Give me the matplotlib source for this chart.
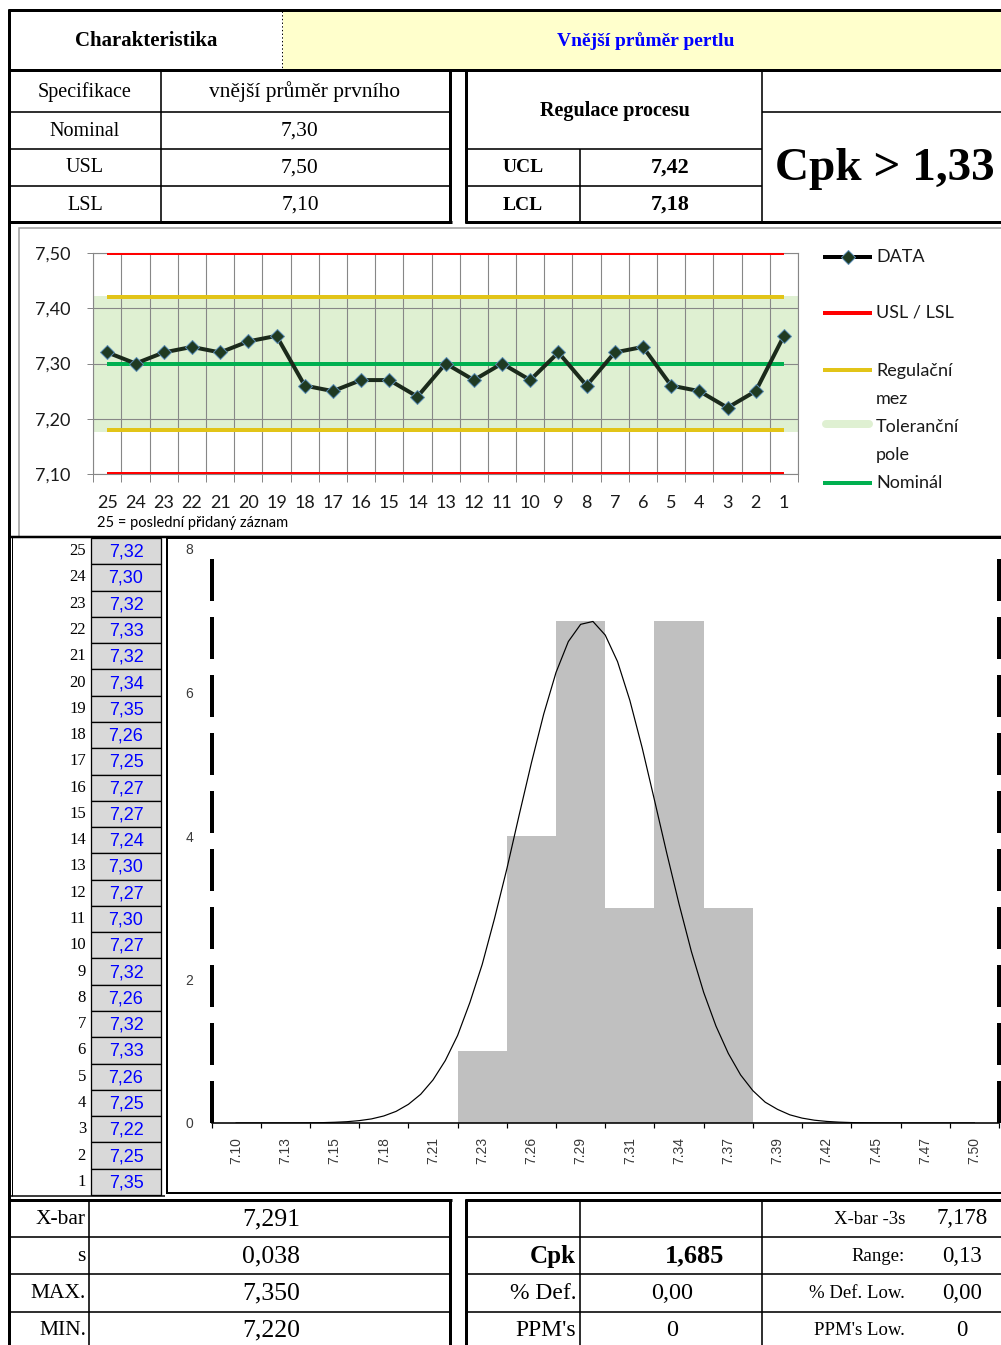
import matplotlib
matplotlib.use('Agg')
import matplotlib.pyplot as plt
from matplotlib.patches import Rectangle

plt.rcParams['lines.scale_dashes'] = False

# ---------------- data ----------------
sample_no = [25, 24, 23, 22, 21, 20, 19, 18, 17, 16, 15, 14, 13,
             12, 11, 10, 9, 8, 7, 6, 5, 4, 3, 2, 1]
measured = [7.32, 7.30, 7.32, 7.33, 7.32, 7.34, 7.35, 7.26, 7.25, 7.27, 7.27, 7.24, 7.30,
            7.27, 7.30, 7.27, 7.32, 7.26, 7.32, 7.33, 7.26, 7.25, 7.22, 7.25, 7.35]
nominal = 7.30
usl = 7.50
lsl = 7.10
ucl = 7.42
lcl = 7.18
chart_yticks = [7.10, 7.20, 7.30, 7.40, 7.50]

bin_labels = ['7.10', '7.13', '7.15', '7.18', '7.21', '7.23', '7.26', '7.29',
              '7.31', '7.34', '7.37', '7.39', '7.42', '7.45', '7.47', '7.50']
bin_counts = [0, 0, 0, 0, 0, 1, 4, 7, 3, 7, 3, 0, 0, 0, 0, 0]
hist_yticks = [0, 2, 4, 6, 8]
# normal curve at quarter-category steps
curve_pos = [i / 4 for i in range(61)]
curve_val = [0, 0, 0, 0.0003, 0.0006, 0.0013, 0.0026, 0.005, 0.010, 0.018,
             0.033, 0.057, 0.098, 0.162, 0.26, 0.40, 0.60, 0.87, 1.22, 1.68,
             2.21, 2.85, 3.54, 4.29, 5.02, 5.70, 6.28, 6.71, 6.95, 6.99,
             6.80, 6.43, 5.89, 5.23, 4.50, 3.76, 3.05, 2.39, 1.82, 1.35,
             0.97, 0.67, 0.45, 0.29, 0.19, 0.114, 0.068, 0.039, 0.022, 0.012,
             0.006, 0.003, 0.0016, 0.0008, 0.0004, 0.0002, 0, 0, 0, 0, 0]

spec_labels = ['Nominal', 'USL', 'LSL']
spec_values = ['7,30', '7,50', '7,10']
ctrl_labels = ['UCL', 'LCL']
ctrl_values = ['7,42', '7,18']

stat_left_labels = ['X-bar', 's', 'MAX.', 'MIN.']
stat_left_values = ['7,291', '0,038', '7,350', '7,220']
stat_mid_labels = ['', 'Cpk', '% Def.', "PPM's"]
stat_mid_values = ['', '1,685', '0,00', '0']
stat_right_labels = ['X-bar -3s', 'Range:', '% Def. Low.', "PPM's Low."]
stat_right_values = ['7,178', '0,13', '0,00', '0']

# ---------------- styles ----------------
SERIF = 'Liberation Serif'
SANS = 'Liberation Sans'
CHART = 'Lato'
RED = '#FF0000'
GOLD = '#E2C418'
GREEN = '#00B050'
BAND = '#DFF0D2'
GRID = '#878787'
W, H = 1001, 1345
PX = 72 / 100.0

fig = plt.figure(figsize=(W / 100, H / 100), dpi=100)
ov = fig.add_axes([0, 0, 1, 1])
ov.set_xlim(0, W)
ov.set_ylim(H, 0)
ov.axis('off')


def L(xs, ys, lw=1.6, color='black', ls='-', z=3):
    ov.plot(xs, ys, color=color, lw=lw * PX, ls=ls, solid_capstyle='butt', zorder=z)


def T(x, y, s, size, ha='center', family=SERIF, weight='normal', color='black'):
    ov.text(x, y, s, fontsize=size, ha=ha, va='center', family=family,
            weight=weight, color=color, zorder=6)


# ---------------- header ----------------
ov.add_patch(Rectangle((283, 11), W - 283, 58, fc='#FFFFCC', ec='none', zorder=1))
L([8, W], [10, 10], lw=3)
L([9, 9], [9, H], lw=3)
L([282, 282], [11, 69], lw=1, ls=':')
L([8, W], [70, 70], lw=3)
T(146, 41, 'Charakteristika', 15, weight='bold')
T(646, 41, 'Vnější průměr pertlu', 14, weight='bold', color='#0000FF')

# top-left table
for y in [112, 149, 186]:
    L([9, 450], [y, y])
L([8, 452], [222, 222], lw=3)
L([161, 161], [70, 222])
L([450, 450], [70, 223], lw=3)
T(85, 92, 'Specifikace', 14.5)
T(305, 92, 'vnější průměr prvního', 15.5)
for i, (lab, val) in enumerate(zip(spec_labels, spec_values)):
    yc = 131 + i * 37
    T(85, yc, lab, 14.5)
    T(300, yc, val, 15.5)

# top-right table
L([466, 466], [70, 223], lw=3)
L([762, 762], [70, 222])
L([580, 580], [149, 222])
L([466, 762], [149, 149])
L([466, 762], [186, 186])
L([762, W], [112, 112])
L([465, W], [222, 222], lw=3)
T(615, 111, 'Regulace procesu', 14.5, weight='bold')
for i, (lab, val) in enumerate(zip(ctrl_labels, ctrl_values)):
    yc = 168 + i * 37
    T(523, yc, lab, 14, weight='bold')
    T(670, yc, val, 16, weight='bold')
T(885, 169, 'Cpk > 1,33', 34, weight='bold')

# chart box
ov.add_patch(Rectangle((19, 228), W, 309, fc='white', ec='#9a9a9a', lw=1.5 * PX, zorder=1))
L([9, W], [537, 537], lw=2.5)

# data table
row_h = (1195 - 538) / 25.0
for i, (n, v) in enumerate(zip(sample_no, measured)):
    y0 = 538 + i * row_h
    ov.add_patch(Rectangle((91, y0), 70, row_h, fc='#D9D9D9', ec='black',
                           lw=1.3 * PX, zorder=2))
    T(86, y0 + row_h / 2, str(n), 12, ha='right')
    T(126, y0 + row_h / 2 + 1, f'{v:.2f}'.replace('.', ','), 13, family=SANS, color='#0000FF')
L([12, 12], [537, 1196], lw=1)

# histogram box
ov.add_patch(Rectangle((167, 538), W, 655, fc='white', ec='black', lw=2 * PX, zorder=1))
L([9, 165], [1196, 1196], lw=1.5)

# bottom table
L([8, 452], [1200, 1200], lw=3)
L([465, W], [1200, 1200], lw=3)
for y in [1237, 1274, 1312]:
    L([9, 450], [y, y])
    L([466, W], [y, y])
L([89, 89], [1200, H])
L([450, 450], [1199, H], lw=3)
L([466, 466], [1199, H], lw=3)
L([580, 580], [1200, H])
L([762, 762], [1200, H])
for i in range(4):
    yc = 1219 + i * 37.3
    T(86, yc, stat_left_labels[i], 15.5, ha='right')
    T(271, yc, stat_left_values[i], 18.5)
    if stat_mid_labels[i] == 'Cpk':
        T(576, yc, stat_mid_labels[i], 18, ha='right', weight='bold')
        T(695, yc, stat_mid_values[i], 19, weight='bold')
    else:
        T(576, yc, stat_mid_labels[i], 17, ha='right')
        T(672, yc, stat_mid_values[i], 17.5)
    T(905, yc, stat_right_labels[i], 13.5, ha='right')
    T(962, yc, stat_right_values[i], 16.5)

# ---------------- control chart ----------------
ax = fig.add_axes([93.3 / W, 1 - 474 / H, (798 - 93.3) / W, (474 - 253) / H])
ax.set_zorder(2)
xs = list(range(len(measured)))
ax.fill_between([-0.5, len(xs) - 0.5], [lcl, lcl], [ucl, ucl], color=BAND,
                ec=BAND, lw=3 * PX, zorder=1)
ax.plot(xs, [usl] * len(xs), color=RED, lw=4 * PX, zorder=3, solid_capstyle='butt')
ax.plot(xs, [lsl] * len(xs), color=RED, lw=4 * PX, zorder=3, solid_capstyle='butt')
ax.plot(xs, [ucl] * len(xs), color=GOLD, lw=4 * PX, zorder=3, solid_capstyle='butt')
ax.plot(xs, [lcl] * len(xs), color=GOLD, lw=4 * PX, zorder=3, solid_capstyle='butt')
ax.plot(xs, [nominal] * len(xs), color=GREEN, lw=4 * PX, zorder=3, solid_capstyle='butt')
ax.plot(xs, measured, color='#1b2a1b', lw=4 * PX, marker='D', ms=7.5,
        mfc='#1f3a22', mec='#5a8db5', mew=0.7, zorder=5)
ax.set_xlim(-0.5, len(xs) - 0.5)
ax.set_ylim(lsl, usl)
ax.set_xticks(xs)
ax.set_xticklabels([str(n) for n in sample_no], family=CHART, fontsize=13, color='#1a1a1a')
ax.set_xticks([i - 0.5 for i in range(len(xs) + 1)], minor=True)
ax.set_yticks(chart_yticks)
ax.set_yticklabels([f'{v:.2f}'.replace('.', ',') for v in chart_yticks],
                   family=CHART, fontsize=13, color='#1a1a1a')
ax.tick_params(axis='x', which='major', length=0, pad=15)
ax.tick_params(axis='x', which='minor', length=8 * PX, color=GRID, width=1 * PX)
ax.tick_params(axis='y', which='major', length=6 * PX, color=GRID, width=1 * PX, pad=12)
ax.grid(axis='x', which='minor', color=GRID, lw=1.1 * PX)
ax.grid(axis='y', which='major', color=GRID, lw=1.1 * PX)
ax.set_axisbelow(False)
for sp in ax.spines.values():
    sp.set_color(GRID)
    sp.set_linewidth(1.1 * PX)

T(97, 523, '25 = poslední přidaný záznam', 10.5, ha='left', family=CHART)

# legend (drawn beside the chart)
leg_x0, leg_x1 = 823, 872
L([leg_x0, leg_x1], [257, 257], lw=4, color='black')
ov.plot([(leg_x0 + leg_x1) / 2], [257], marker='D', ms=7, mfc='#1f3a22', mec='#5a8db5',
        mew=0.7, zorder=5)
L([leg_x0, leg_x1], [313, 313], lw=4, color=RED)
L([leg_x0, leg_x1], [370, 370], lw=4, color=GOLD)
ov.plot([leg_x0 + 3, leg_x1 - 3], [424, 424], color=BAND, lw=8 * PX,
        solid_capstyle='round', zorder=3)
L([leg_x0, leg_x1], [483, 483], lw=4, color=GREEN)
for y, s in [(257, 'DATA'), (313, 'USL / LSL'), (371, 'Regulační'), (399, 'mez'),
             (427, 'Toleranční'), (455, 'pole'), (483, 'Nominál')]:
    T(876, y, s, 13, ha='left', family=CHART, color='#1a1a1a')

# ---------------- histogram ----------------
hx = fig.add_axes([211.5 / W, 1 - 1123 / H, (999 - 211.5) / W, (1123 - 549) / H])
hx.set_zorder(2)
hx.patch.set_alpha(0)
cats = list(range(len(bin_labels)))
hx.bar(cats, bin_counts, width=1.0, color='#C0C0C0', lw=0, zorder=1)
hx.plot(curve_pos, curve_val, color='black', lw=1.2 * PX, zorder=3)
hx.set_xlim(-0.5, len(cats) - 0.5)
hx.set_ylim(0, 8)
hx.set_xticks(cats)
hx.set_xticklabels(bin_labels, rotation=90, family=SANS, fontsize=10, color='#3a3a3a')
hx.set_xticks([i - 0.5 for i in range(len(cats) + 1)], minor=True)
hx.set_yticks(hist_yticks)
hx.set_yticklabels([str(v) for v in hist_yticks], family=SANS, fontsize=10, color='#3a3a3a')
hx.tick_params(axis='x', which='major', length=0, pad=10)
hx.tick_params(axis='x', which='minor', length=5 * PX, width=1.2 * PX, color='black')
hx.tick_params(axis='y', length=0, pad=13)
for side in ['left', 'top', 'right']:
    hx.spines[side].set_visible(False)
hx.spines['bottom'].set_linewidth(1.6 * PX)
for xv in [-0.5, len(cats) - 0.5]:
    hx.axvline(xv, color='black', lw=4 * PX, ls=(0, (42 * PX, 16 * PX)),
               clip_on=False, dash_capstyle='butt', zorder=4)

fig.savefig('out.png', dpi=100)
